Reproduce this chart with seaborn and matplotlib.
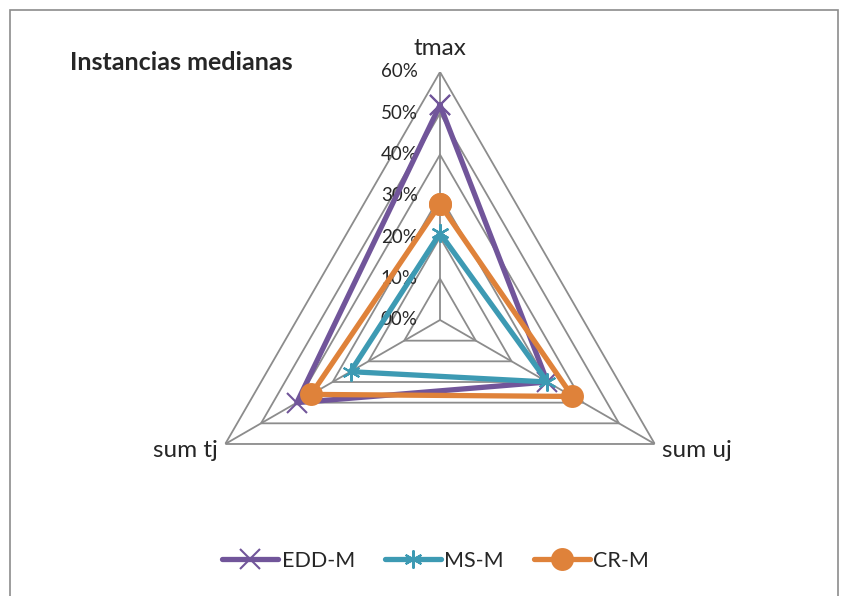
import numpy as np
import pandas as pd
import matplotlib
matplotlib.use('Agg')
import matplotlib.pyplot as plt
import seaborn as sns

# values
axes_labels = ['tmax', 'sum uj', 'sum tj']
series_names = ['EDD-M', 'MS-M', 'CR-M']
edd_m = [0.52, 0.30, 0.40]
ms_m = [0.21, 0.30, 0.25]
cr_m = [0.28, 0.37, 0.36]
grid_levels = [0.0, 0.1, 0.2, 0.3, 0.4, 0.5, 0.6]

colors = ['#71559A', '#3D9AB3', '#DF823A']
markers = ['x', (6, 2, 0), 'o']
msizes = [14, 13, 15]

sns.set_style('white')
plt.rcParams['font.family'] = ['Lato', 'DejaVu Sans']

fig = plt.figure(figsize=(8.41, 5.96), dpi=100)
# chart border
fig.patches.append(plt.Rectangle((10 / 841, -0.02), 828 / 841, 1 - 10 / 596 + 0.02,
                                 transform=fig.transFigure, fill=False,
                                 edgecolor='#8C8C8C', linewidth=1.2))

ax = fig.add_axes([0.2283, 0.047, 0.5898, 0.8322], projection='polar')
ax.set_theta_zero_location('N')
ax.set_theta_direction(-1)
ax.grid(False)
ax.spines['polar'].set_visible(False)
ax.set_ylim(0, grid_levels[-1])

angles = np.linspace(0, 2 * np.pi, len(axes_labels), endpoint=False)
closed = np.append(angles, angles[0])

# triangular gridlines and spokes
for lvl in grid_levels[1:]:
    ax.plot(closed, [lvl] * len(closed), color='#8C8C8C', lw=1.3, zorder=1)
for a in angles:
    ax.plot([a, a], [0, grid_levels[-1]], color='#8C8C8C', lw=1.3, zorder=1)

# radial tick labels
for lvl in grid_levels:
    ax.annotate(f'{int(round(lvl * 100)):02d}%', (0, lvl), xytext=(-16, 0),
                textcoords='offset points', ha='right', va='center', fontsize=13.5)

# axis labels
ax.annotate(axes_labels[0], (angles[0], grid_levels[-1]), xytext=(0, 9),
            textcoords='offset points', ha='center', va='bottom', fontsize=17.5)
ax.annotate(axes_labels[1], (angles[1], grid_levels[-1]), xytext=(5, -5),
            textcoords='offset points', ha='left', va='center', fontsize=17.5)
ax.annotate(axes_labels[2], (angles[2], grid_levels[-1]), xytext=(-5, -5),
            textcoords='offset points', ha='right', va='center', fontsize=17.5)

handles = []
for name, vals, c, m, ms in zip(series_names, [edd_m, ms_m, cr_m], colors, markers, msizes):
    df = pd.DataFrame({'theta': closed, 'value': vals + [vals[0]]})
    sns.lineplot(data=df, x='theta', y='value', sort=False, estimator=None, ax=ax,
                 color=c, lw=3.8, marker=m, markersize=ms, markeredgewidth=1.5,
                 markeredgecolor=c, zorder=3)
    h, = ax.plot([], [], color=c, lw=3.8, marker=m, markersize=ms,
                 markeredgewidth=1.5, markeredgecolor=c, solid_capstyle='round')
    handles.append(h)
ax.set_xlabel('')
ax.set_ylabel('')
ax.set_xticks([])
ax.set_yticks([])
ax.set_ylim(0, grid_levels[-1])

fig.text(70 / 841, 1 - 62 / 596, 'Instancias medianas', fontsize=18, fontweight='bold',
         ha='left', va='center')

fig.legend(handles, series_names, loc='center', bbox_to_anchor=(0.518, 1 - 561 / 596),
           ncol=3, frameon=False, fontsize=15.5, handlelength=2.6, columnspacing=1.4,
           handletextpad=0.15, numpoints=1)

fig.savefig('out.png', dpi=100)
